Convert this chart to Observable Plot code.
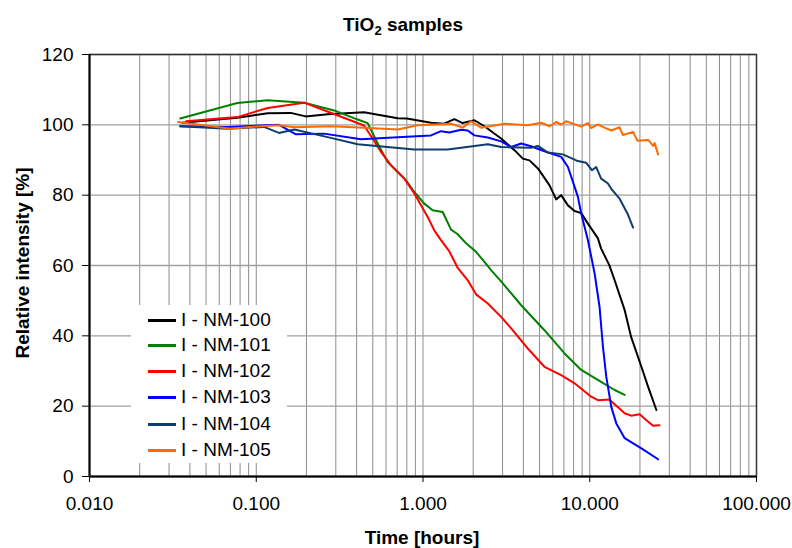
<!DOCTYPE html>
<html>
<head>
<meta charset="utf-8">
<script src="https://cdn.jsdelivr.net/npm/d3@7"></script>
<script src="https://cdn.jsdelivr.net/npm/@observablehq/plot@0.6"></script>
<style>
  html, body { margin: 0; padding: 0; background: #fff; }
  #wrap { position: relative; width: 792px; height: 548px; font-family: "Liberation Sans", Arial, sans-serif; color: #000; }
  #chart svg { display: block; }
  .title { position: absolute; top: 15px; left: 403px; transform: translateX(-50%); font-weight: bold; font-size: 19px; line-height: 1; white-space: nowrap; }
  .xtitle { position: absolute; top: 528px; left: 422px; transform: translateX(-50%); font-weight: bold; font-size: 19px; line-height: 1; white-space: nowrap; }
  .ytitle { position: absolute; top: 263px; left: 22px; transform: translate(-50%, -50%) rotate(-90deg); font-weight: bold; font-size: 19px; line-height: 1; white-space: nowrap; }
  .legend { position: absolute; left: 131px; top: 305px; width: 156px; height: 158px; background: #fff; }
  .legend .row { position: absolute; left: 17px; height: 20px; display: flex; align-items: center; font-size: 19px; white-space: nowrap; }
  .legend .sw { width: 28px; height: 3px; margin-right: 5px; }
</style>
</head>
<body>
<div id="wrap">
  <div id="chart"></div>
  <div class="title">TiO<sub style="font-size:13px;vertical-align:-4px;">2</sub> samples</div>
  <div class="xtitle">Time [hours]</div>
  <div class="ytitle">Relative intensity [%]</div>
  <div class="legend" id="legend"></div>
</div>
<script>
// ---- Data (time in hours, relative intensity in %) ----
const seriesNames = ["I - NM-100", "I - NM-101", "I - NM-102", "I - NM-103", "I - NM-104", "I - NM-105"];
const seriesColors = ["#000000", "#008000", "#ff0000", "#0000ff", "#0f3c6c", "#ff6a00"];

const nm100 = [[0.036,100.6],[0.077,102],[0.117,103.3],[0.161,103.4],[0.198,102.4],[0.268,103],[0.443,103.6],[0.705,101.9],[0.8,101.8],[1.117,100.6],[1.337,100.3],[1.542,101.6],[1.731,100.5],[2.033,101.3],[2.335,99.6],[2.94,96.1],[3.535,92.8],[3.97,90.4],[4.35,89.9],[4.89,87.6],[5.74,82.8],[6.29,78.8],[6.74,80],[7.4,77.1],[8.11,75.5],[8.89,74.9],[9.75,71.9],[11.2,67.7],[11.7,64.8],[13.1,60.1],[14.1,55.8],[16.2,47.3],[17.7,39.7],[20.4,31.2],[22.4,25.5],[25.1,18.9]];
const nm101 = [[0.035,101.8],[0.077,106.2],[0.117,107],[0.194,106.3],[0.293,104.1],[0.406,101.5],[0.466,100.5],[0.535,94.7],[0.614,89.4],[0.705,86.6],[0.791,84.2],[0.887,80.9],[1.018,77.6],[1.143,75.7],[1.313,75.2],[1.473,70.2],[1.616,68.9],[1.813,66.3],[2.081,63.9],[2.335,61],[2.56,58.7],[2.94,55.5],[3.88,48.7],[5.35,41.6],[7.06,35],[8.89,30.3],[11.7,26.9],[14.1,24.6],[16.2,23.2]];
const nm102 = [[0.038,101],[0.077,102.2],[0.117,104.8],[0.194,106.3],[0.244,104.5],[0.443,99.8],[0.499,96.1],[0.56,92.3],[0.643,88.5],[0.773,84.7],[0.887,80.5],[1.067,73.8],[1.169,70],[1.282,67.2],[1.439,64],[1.616,59.3],[1.855,55.8],[2.081,51.8],[2.447,49.2],[2.94,45.4],[3.38,42.1],[4.25,36.4],[5.35,31.2],[6.74,28.8],[8.11,26.5],[10.2,22.7],[11.2,21.7],[13.1,21.9],[16.2,18],[17.7,17.3],[19.9,17.7],[22.4,15.6],[24,14.4],[26.2,14.6]];
const nm103 = [[0.035,99.6],[0.067,99.4],[0.137,100],[0.173,97.3],[0.255,97.5],[0.425,95.9],[0.705,96.5],[1.117,97],[1.282,98.2],[1.439,97.8],[1.69,98.6],[1.855,98.4],[2.033,97],[2.447,96.4],[2.94,95.3],[3.38,93.7],[3.88,94.7],[4.45,93.9],[5.35,92.5],[6.74,90.9],[7.4,88],[7.9,84],[8.49,79.5],[8.89,74.8],[9.75,67.2],[10.7,57.7],[11.45,48.2],[12.0,36.9],[12.56,28.4],[13.46,19.8],[14.43,15.1],[16.2,10.9],[18.2,9.4],[20.4,8],[25.7,4.9]];
const nm104 = [[0.035,99.6],[0.067,98.9],[0.111,99.4],[0.137,97.7],[0.169,98.7],[0.268,96.5],[0.406,94.5],[0.887,93],[1.407,93],[2.447,94.5],[2.94,93.7],[4.45,93.5],[4.89,94],[5.61,92.1],[6.9,91.6],[8.49,89.7],[9.53,89.2],[10.3,87.1],[10.94,88],[11.7,84.7],[12.86,83.3],[13.46,81.8],[15.1,79],[16.95,74.5],[18.2,70.8]];
const nm105 = [[0.034,100.8],[0.07,98.9],[0.106,99.6],[0.137,99.9],[0.169,99.3],[0.28,99.6],[0.443,99.2],[0.705,98.7],[0.929,99.9],[1.473,100.3],[1.731,99.2],[1.942,101],[2.23,99.2],[3.08,100.3],[4.25,99.9],[5.11,100.6],[5.74,99.6],[6.29,100.8],[6.74,100.1],[7.22,101],[8.89,99.5],[9.75,100.5],[10.2,99.1],[11.2,100.1],[12.27,99.2],[13.46,98.4],[15.1,99.3],[15.8,97.1],[18.2,98],[19.3,95.5],[22.4,95.7],[24,94],[24.5,94.8],[25.7,91.6]];

const xTicks = [0.01, 0.1, 1, 10, 100];
const yTicks = [0, 20, 40, 60, 80, 100, 120];

// ---- Build table ----
const allSeries = [nm100, nm101, nm102, nm103, nm104, nm105];
const rows = allSeries.flatMap((s, i) => s.map(([t, v]) => ({series: seriesNames[i], t, v})));

// minor grid positions on log axis
const gridX = [];
for (let k = -2; k <= 1; k++) for (let m = 1; m <= 9; m++) gridX.push(m * Math.pow(10, k));
gridX.push(100);

const chart = Plot.plot({
  width: 792,
  height: 548,
  marginLeft: 89,
  marginRight: 36,
  marginTop: 54,
  marginBottom: 72,
  style: {fontFamily: "'Liberation Sans', Arial, sans-serif", fontSize: "19px", color: "#000", background: "#fff"},
  x: {type: "log", domain: [0.01, 100]},
  y: {domain: [0, 120]},
  color: {domain: seriesNames, range: seriesColors},
  marks: [
    Plot.ruleX(gridX, {stroke: "#8c8c8c", strokeWidth: 1, strokeOpacity: 1}),
    Plot.ruleY(yTicks, {stroke: "#a0a0a0", strokeWidth: 1.3, strokeOpacity: 1}),
    Plot.frame({stroke: "#333", strokeWidth: 1.5}),
    Plot.axisX({ticks: xTicks, tickFormat: d3.format(".3f"), tickSize: 6, tickPadding: 14, label: null, stroke: "#000"}),
    Plot.axisY({ticks: yTicks, tickFormat: d3.format("d"), tickSize: 7, tickPadding: 9, label: null, stroke: "#000"}),
    Plot.line(rows, {x: "t", y: "v", z: "series", stroke: "series", strokeWidth: 2, strokeLinejoin: "round"}),
    Plot.ruleX([0.01], {stroke: "#000", strokeWidth: 2}),
    Plot.ruleY([0], {stroke: "#000", strokeWidth: 2})
  ]
});
document.getElementById("chart").appendChild(chart);

// ---- Legend ----
const legend = document.getElementById("legend");
const rowCenters = [15, 40, 66, 92, 119, 145];
seriesNames.forEach((name, i) => {
  const r = document.createElement("div");
  r.className = "row";
  r.style.top = (rowCenters[i] - 10) + "px";
  const sw = document.createElement("span");
  sw.className = "sw";
  sw.style.background = seriesColors[i];
  const tx = document.createElement("span");
  tx.textContent = name;
  r.appendChild(sw);
  r.appendChild(tx);
  legend.appendChild(r);
});
</script>
</body>
</html>
